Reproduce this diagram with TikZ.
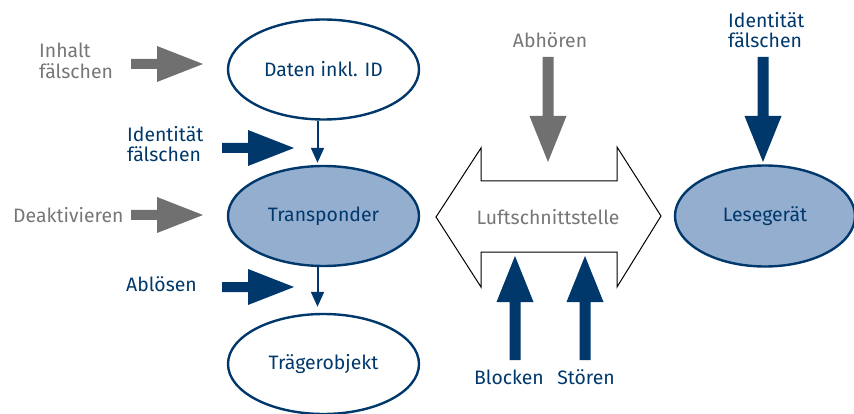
\documentclass[tikz,border=0pt]{standalone}
\usepackage{fontspec}
\setmainfont{Fira Sans}
\usetikzlibrary{shapes.geometric,arrows.meta}
\definecolor{dblue}{RGB}{0,56,108}
\definecolor{lblue}{RGB}{148,174,207}
\definecolor{agray}{RGB}{112,112,112}
\definecolor{tgray}{RGB}{118,118,118}
\newcommand\rblock[3]{\fill[#3] (#1,#2-5) -- ++(26,0) -- ++(0,-13) -- ++(46,18) -- ++(-46,18) -- ++(0,-13) -- ++(-26,0) -- cycle;}
\newcommand\dblock[3]{\fill[#3] (#1-5.5,#2) -- ++(11,0) -- ++(0,59) -- ++(13,0) -- ++(-18.5,46) -- ++(-18.5,-46) -- ++(13,0) -- cycle;}
\newcommand\ublock[3]{\fill[#3] (#1-5.5,#2) -- ++(11,0) -- ++(0,-58) -- ++(13,0) -- ++(-18.5,-46) -- ++(-18.5,46) -- ++(13,0) -- cycle;}
\begin{document}
\begin{tikzpicture}[x=1pt,y=-1pt,
  ell/.style={ellipse, draw=dblue, line width=2.4pt, minimum width=191pt, minimum height=100pt, inner sep=0pt, text=dblue, font=\fontsize{19.4}{20.5}\selectfont},
  lbl/.style={inner sep=0pt, align=left, font=\fontsize{19.4}{20.5}\selectfont},
  conn/.style={draw=dblue, line width=2pt, -{Triangle[width=13pt,length=15pt]}}
]
\useasboundingbox (0,0) rectangle (854,414);
% ellipses
\node[ell] (daten) at (323.5,69.5) {Daten inkl. ID};
\node[ell, fill=lblue] (trans) at (323.5,216) {Transponder};
\node[ell] (traeger) at (323.5,364) {Trägerobjekt};
\node[ell, fill=lblue, minimum width=180pt, minimum height=101pt] (lese) at (765,216) {Lesegerät};
% connectors
\draw[conn, shorten >=2pt] ([xshift=-6pt]daten.south) -- ([xshift=-6pt]trans.north);
\draw[conn, shorten >=6pt] ([xshift=-6pt]trans.south) -- ([xshift=-6pt]traeger.north);
% double arrow
\draw[black, line width=1pt, line join=miter] (436,217) -- (481,148) -- (481,181) -- (617,181) -- (617,147) -- (661,216) -- (617,287) -- (617,252) -- (481,252) -- (481,287) -- cycle;
\node[lbl, text=tgray] (luft) at (548,217) {Luftschnittstelle};
% block arrows
\rblock{131}{64}{agray}
\rblock{222}{148}{dblue}
\rblock{131}{215}{agray}
\rblock{222}{287}{dblue}
\dblock{548}{57}{agray}
\dblock{763}{57}{dblue}
\ublock{515}{360}{dblue}
\ublock{585}{360}{dblue}
% labels
\node[lbl, text=tgray, anchor=west] (inhalt) at (39,61) {Inhalt\\fälschen};
\node[lbl, text=dblue, anchor=west] (idl) at (127,144) {Identität\\fälschen};
\node[lbl, text=tgray, anchor=west] (deak) at (13,215) {Deaktivieren};
\node[lbl, text=dblue, anchor=west] (abl) at (126,284) {Ablösen};
\node[lbl, text=tgray] (abh) at (550,40) {Abhören};
\node[lbl, text=dblue, anchor=west] (idr) at (728,30) {Identität\\fälschen};
\node[lbl, text=dblue] (blk) at (509,377) {Blocken};
\node[lbl, text=dblue] (stor) at (586,377) {Stören};
\end{tikzpicture}
\end{document}
